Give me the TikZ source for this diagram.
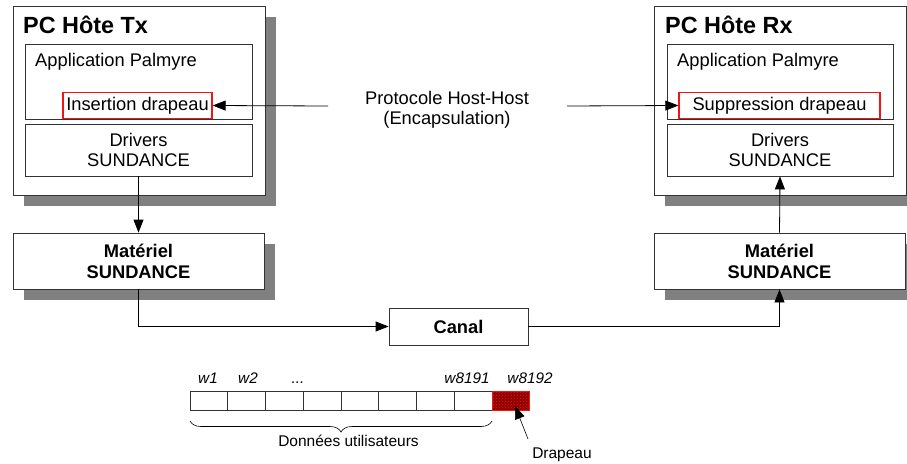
\documentclass[tikz,border=0pt]{standalone}
\usepackage{fontspec}
\setmainfont{Liberation Sans}
\usetikzlibrary{arrows.meta,shadows,patterns,decorations.pathreplacing}

\definecolor{shadowgray}{RGB}{128,128,128}
\definecolor{flagred}{RGB}{240,20,20}

\begin{document}
\begin{tikzpicture}[x=1pt,y=1pt,yscale=-1,
  host/.style={draw=black!80, fill=white, line width=0.8pt, inner sep=0pt,
    drop shadow={shadow xshift=11pt, shadow yshift=-11pt, fill=shadowgray, opacity=1}},
  hw/.style={host, align=center, font=\bfseries\fontsize{18.3}{21}\selectfont},
  layer/.style={draw=black!80, fill=white, line width=0.8pt, inner sep=0pt, align=center,
    font=\fontsize{18.3}{20.7}\selectfont},
  flagbox/.style={draw=flagred, fill=white, line width=1.3pt, inner sep=0pt,
    font=\fontsize{18.3}{20}\selectfont},
  title/.style={anchor=base west, inner sep=0pt, font=\bfseries\fontsize{23.4}{26}\selectfont},
  lbl/.style={anchor=base west, inner sep=0pt, font=\fontsize{18.3}{20}\selectfont},
  word/.style={anchor=base, inner sep=0pt, font=\itshape\fontsize{15.3}{17}\selectfont},
  note/.style={anchor=base, inner sep=0pt, font=\fontsize{15.5}{17}\selectfont},
  cell/.style={draw=black!80, line width=0.6pt, minimum width=37.75pt, minimum height=19pt, inner sep=0pt},
  link/.style={line width=0.8pt, -{Triangle[length=13pt,width=10pt]}},
]
\useasboundingbox (0,0) rectangle (907,463);

% PC emetteur
\node[host, minimum width=252pt, minimum height=189pt] (txpc) at (139,100.5) {};
\node[title] (txtitle) at (23,33) {PC Hôte Tx};
\node[layer, minimum width=227pt, minimum height=75pt] (txapp) at (138.5,81.5) {};
\node[lbl] (txapplbl) at (35,66) {Application Palmyre};
\node[flagbox, minimum width=149pt, minimum height=26pt] (txflag) at (137.5,105.5) {Insertion drapeau};
\node[layer, minimum width=227pt, minimum height=52pt] (txdrv) at (138.5,150) {Drivers\\SUNDANCE};

% PC recepteur
\node[host, minimum width=252pt, minimum height=189pt] (rxpc) at (780,100.5) {};
\node[title] (rxtitle) at (665,33) {PC Hôte Rx};
\node[layer, minimum width=226pt, minimum height=75pt] (rxapp) at (780,81.5) {};
\node[lbl] (rxapplbl) at (677,66) {Application Palmyre};
\node[flagbox, minimum width=201pt, minimum height=26pt] (rxflag) at (779.5,105.5) {Suppression drapeau};
\node[layer, minimum width=226pt, minimum height=52pt] (rxdrv) at (780,150) {Drivers\\SUNDANCE};

% materiel + canal
\node[hw, minimum width=251pt, minimum height=56pt] (txhw) at (138.5,261) {Matériel\\SUNDANCE};
\node[hw, minimum width=251pt, minimum height=56pt] (rxhw) at (779.5,261) {Matériel\\SUNDANCE};
\node[layer, font=\bfseries\fontsize{18.3}{21}\selectfont, minimum width=139pt, minimum height=37pt] (canal) at (458.5,326.5) {Canal};

% protocole
\node[align=center, inner sep=0pt, font=\fontsize{18.3}{19.5}\selectfont] (proto) at (447,110) {Protocole Host-Host\\(Encapsulation)};
\coordinate (protol) at (328,106);
\coordinate (protor) at (567,106);
\draw[link] (protol) -- (txflag.east);
\draw[link] (protor) -- (rxflag.west);

\draw[link] (txdrv.south) -- (txhw.north);
\draw[link] (txhw.south) |- (canal.west);
\draw[link] (canal.east) -| (rxhw.south);
\draw[link] (rxhw.north) -- (rxdrv.south);

% trame
\foreach \i in {1,...,8}
  \node[cell] (c\i) at ({190+(\i-0.5)*37.75},400.5) {};
\node[cell, draw=flagred, fill=red!55!black, postaction={pattern=crosshatch dots, pattern color=flagred}] (c9) at ({190+8.5*37.75},400.5) {};

\node[word] (w1) at (208,383) {w1};
\node[word] (w2) at (248,383) {w2};
\node[word] (wdots) at (298,383) {...};
\node[word] (w8191) at (467,383) {w8191};
\node[word] (w8192) at (530,383) {w8192};

\coordinate (bracel) at (190,421);
\coordinate (bracer) at (492,421);
\draw[decorate, decoration={brace, mirror, amplitude=11pt}, line width=0.6pt] (bracel) -- (bracer);
\node[note] (data) at (348.5,446.5) {Données utilisateurs};

\node[note] (flag) at (562,458) {Drapeau};
\coordinate (flagtail) at (528,439);
\coordinate (flagtip) at (515,406);
\draw[link, line width=0.6pt] (flagtail) -- (flagtip);
\end{tikzpicture}
\end{document}
